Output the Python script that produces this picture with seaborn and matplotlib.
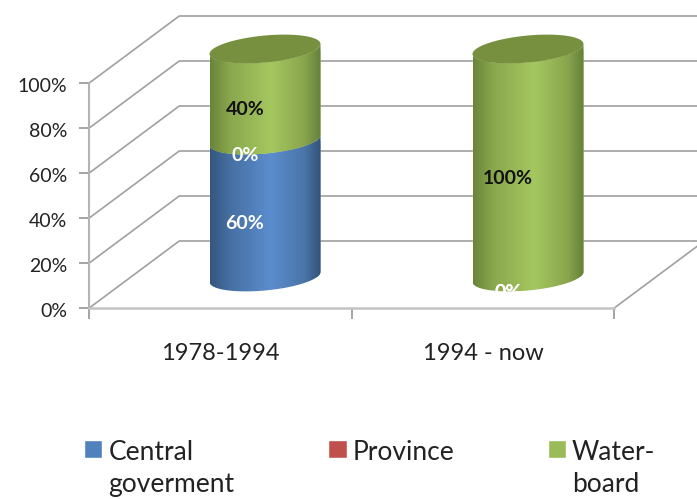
import numpy as np
import matplotlib
matplotlib.use("Agg")
import matplotlib.pyplot as plt
import seaborn as sns
from matplotlib.colors import LinearSegmentedColormap
from matplotlib.patches import Patch, Polygon
from matplotlib.transforms import ScaledTranslation

categories = ["1978-1994", "1994 - now"]
central = [60, 0]
province = [0, 0]
water = [40, 100]
ticks = [0, 20, 40, 60, 80, 100]

W, H = 697, 499
sns.set_theme(style="white")
plt.rcParams["font.family"] = ["Lato", "DejaVu Sans"]
TEXT = "#222222"
GRID = "#a0a0a0"

fig = plt.figure(figsize=(W / 100, H / 100), dpi=100)


def full_axes(x0, x1, y0, y100):
    # axes over the whole figure, scaled from the pixel spots of two x and two y values
    ax = fig.add_axes([0, 0, 1, 1], facecolor="none")
    sx = x1 - x0
    sy = (y0 - y100) / 100
    ax.set_xlim(-x0 / sx, (W - x0) / sx)
    ax.set_ylim((y0 - H) / sy, y0 / sy)
    return ax, sx, sy


# back part: walls, floor and the real axes
ax, sx, sy = full_axes(220.5, 483, 308, 83)
dx, dy = 90 / sx, 67 / sy
for t in ticks:
    ax.plot([-0.5, -0.5 + dx, 3], [t, t + dy, t + dy], color=GRID, lw=1.2, zorder=1)
ax.plot([1.5, 1.5 + dx], [0, dy], color=GRID, lw=1.2, zorder=1)

for side in ["top", "right"]:
    ax.spines[side].set_visible(False)
ax.spines["left"].set_position(("data", -0.5))
ax.spines["left"].set_bounds(0, 100)
ax.spines["bottom"].set_position(("data", 0))
ax.spines["bottom"].set_bounds(-0.5, 1.5)
ax.spines["left"].set_color("#b4b4b4")
ax.spines["bottom"].set_color("#c4c4c4")
ax.spines["left"].set_linewidth(1.5)
ax.spines["bottom"].set_linewidth(1.8)
ax.set_yticks(ticks)
ax.set_yticklabels([f"{t}%" for t in ticks])
ax.tick_params(axis="y", left=True, length=7, width=1.1, color="#8c8c8c", pad=9,
               labelsize=14, labelcolor=TEXT)
for lab in ax.get_yticklabels():
    lab.set_transform(lab.get_transform() + ScaledTranslation(0, -1.5 / 72, fig.dpi_scale_trans))
ax.set_xticks([-0.5, 0.5, 1.5])
ax.set_xticklabels([])
ax.set_xticks([0, 1], categories, minor=True)
ax.tick_params(axis="x", which="major", bottom=True, length=8, width=1.1, color="#8c8c8c")
ax.tick_params(axis="x", which="minor", bottom=False, pad=21, labelsize=17, labelcolor=TEXT)

# cylinders sit half way into the depth
bx, bsx, bsy = full_axes(265, 528, 277, 49)
bx.axis("off")
bar_w = 111 / bsx
semi_h = 13.5 / bsy
tilt = 5.0 / bsy

blue_stops = [(0, "#34567e"), (0.18, "#4670a3"), (0.55, "#5b8ccd"), (0.85, "#4a75a9"), (1, "#33537a")]
red_stops = [(0, "#8a3533"), (0.5, "#c0504d"), (1, "#8a3533")]
green_stops = [(0, "#69843a"), (0.18, "#89a74d"), (0.55, "#a5c760"), (0.85, "#8aa64d"), (1, "#64803a")]

series = [
    ("Central\ngoverment", central, "#4f81bd", blue_stops, "white"),
    ("Province", province, "#c0504d", red_stops, "white"),
    ("Water-\nboard", water, "#9bbb59", green_stops, "#111111"),
]


def front_arc(cx, v, reverse=False):
    t = np.linspace(0, np.pi, 40)
    xs = cx + bar_w / 2 * np.cos(t)
    ys = v - semi_h * np.sin(t) + tilt * np.cos(t)
    pts = np.column_stack([xs, ys])
    return pts[::-1] if reverse else pts


bottom = np.zeros(len(categories))
for k, (name, vals, color, stops, label_color) in enumerate(series):
    n0 = len(bx.patches)
    sns.barplot(x=categories, y=vals, bottom=bottom, color=color, saturation=1,
                width=bar_w, errorbar=None, ax=bx, zorder=3 + k)
    cmap = LinearSegmentedColormap.from_list(f"shade{k}", stops)
    for i, patch in enumerate(bx.patches[n0:]):
        v = vals[i]
        if v == 0:
            patch.set_visible(False)
        else:
            shape = np.vstack([front_arc(i, bottom[i]), front_arc(i, bottom[i] + v, reverse=True)])
            clip = Polygon(shape, transform=bx.transData)
            patch.set_clip_path(clip)
            im = bx.imshow(np.linspace(0, 1, 256)[None, :], cmap=cmap, aspect="auto", zorder=3.5 + k,
                           extent=[i - bar_w / 2, i + bar_w / 2, bottom[i] - 2 * semi_h, bottom[i] + v + 2 * semi_h])
            im.set_clip_path(clip)
        bx.annotate(f"{v}%", (i, bottom[i] + v / 2), xytext=(-20 * 0.72, -15 * 0.72),
                    textcoords="offset points", ha="center", va="center", fontsize=14,
                    fontweight="bold", color=label_color, zorder=20)
    bottom = bottom + np.array(vals)

# cap on each cylinder
for i, top in enumerate(bottom):
    t = np.linspace(0, 2 * np.pi, 120)
    bx.fill(i + bar_w / 2 * np.cos(t), top - semi_h * np.sin(t) + tilt * np.cos(t),
            color="#76903f", lw=0, zorder=12)

bx.set_xlim(-265 / bsx, (W - 265) / bsx)
bx.set_ylim((277 - H) / bsy, 277 / bsy)

handles = [Patch(facecolor=s[2], label=s[0]) for s in series]
leg = fig.legend(handles=handles, ncol=3, frameon=False, fontsize=19, labelcolor=TEXT,
                 loc="upper left", bbox_to_anchor=(84 / W, 1 - 440 / H), borderaxespad=0, borderpad=0,
                 handlelength=0.7, handleheight=0.7, handletextpad=0.22, columnspacing=3.55,
                 labelspacing=0)
# handle on the first line of wrapped labels
leg._legend_handle_box.align = "top"
for col in leg._legend_handle_box.get_children():
    for row in col.get_children():
        row.align = "top"
for txt in leg.get_texts():
    txt.set_linespacing(1.36)

fig.savefig("out.png", dpi=100)
